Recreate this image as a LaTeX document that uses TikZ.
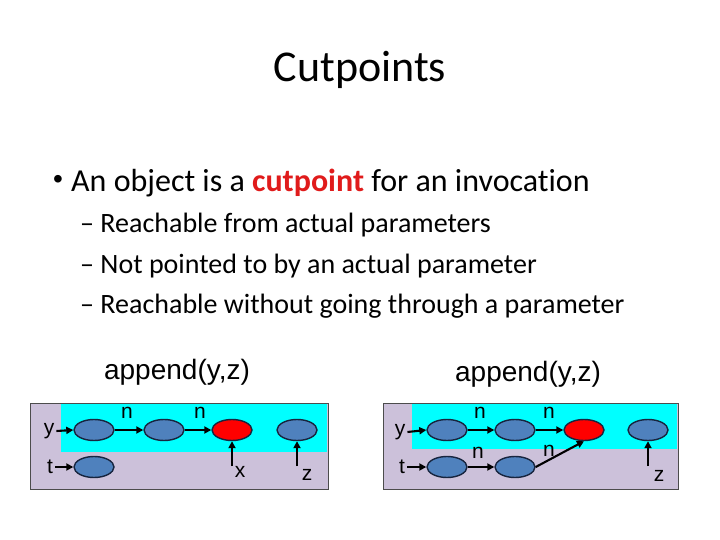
\documentclass[tikz,border=0pt]{standalone}
\usepackage{fontspec}
\setmainfont{Carlito}[Ligatures={NoCommon}]
\newfontfamily\arialf{Liberation Sans}
\definecolor{lilac}{HTML}{CCC1DA}
\definecolor{cyanbg}{HTML}{00FFFF}
\definecolor{objblue}{HTML}{4F81BD}
\definecolor{objline}{HTML}{17253F}
\definecolor{cutred}{HTML}{E01B1B}
\usetikzlibrary{arrows.meta}
\tikzset{
  obj/.style={ellipse, draw=objline, line width=1.4pt, fill=objblue, minimum width=40pt, minimum height=21pt, inner sep=0pt},
  cut/.style={obj, fill=red},
  ptr/.style={draw=black, line width=2.1pt, -{Triangle[length=7pt,width=7pt]}},
  lbl/.style={font=\arialf\fontsize{21}{24}\selectfont, inner sep=0pt},
  head/.style={font=\arialf\fontsize{28}{33}\selectfont, inner sep=0pt},
  lilacbox/.style={fill=lilac, draw=black!70, line width=0.6pt},
  cyanbox/.style={fill=cyanbg, draw=none},
  bl/.style={anchor=base west, inner sep=0pt, font=\fontsize{32}{38}\selectfont},
  sbl/.style={anchor=base west, inner sep=0pt, font=\fontsize{28}{34}\selectfont}
}
\usetikzlibrary{shapes.geometric}
\begin{document}
\begin{tikzpicture}[x=1pt,y=-1pt]
\useasboundingbox (0,0) rectangle (720,540);
% title and bullets
\node[anchor=base, inner sep=0pt, font=\fontsize{44}{52}\selectfont] (title) at (360,82) {Cutpoints};
\node[anchor=center, inner sep=0pt, font=\arialf\fontsize{28}{32}\selectfont] (b0) at (58,182) {•};
\node[bl] (b1) at (71,192) {An object is a \textcolor{cutred}{\textbf{cutpoint}} for an invocation};
\node[sbl] (s1) at (80,233) {– Reachable from actual parameters};
\node[sbl] (s2) at (80,273) {– Not pointed to by an actual parameter};
\node[sbl] (s3) at (80,313) {– Reachable without going through a parameter};
% headers
\node[head] (h1) at (177,372) {append(y,z)};
\node[head] (h2) at (528,374) {append(y,z)};
% ---------- left diagram
\path[lilacbox] (30,403) rectangle (328,489);
\path[cyanbox] (61,404) rectangle (327.4,452);
\node[obj] (a1) at (94,430) {};
\node[obj] (a2) at (164,430) {};
\node[cut] (a3) at (232,430) {};
\node[obj] (a4) at (297,430) {};
\node[obj] (a5) at (94,467) {};
\node[lbl] (ay) at (49,431) {y};
\node[lbl] (at) at (50,467) {t};
\node[lbl] (ax) at (240,472) {x};
\node[lbl] (az) at (307,475) {z};
\node[lbl] (an1) at (127,413) {n};
\node[lbl] (an2) at (200,413) {n};
\draw[ptr] (ay.east) ++(2pt,0) -- (a1.west);
\draw[ptr] (at.east) ++(2pt,0) -- (a5.west);
\draw[ptr] (a1.east) -- (a2.west);
\draw[ptr] (a2.east) -- (a3.west);
\coordinate (axs) at (232,466);
\coordinate (azs) at (297,466);
\draw[ptr] (axs) -- (a3.south);
\draw[ptr] (azs) -- (a4.south);
% ---------- right diagram
\path[lilacbox] (383,403) rectangle (678,489);
\path[cyanbox] (412,404) rectangle (677.4,449);
\node[obj] (c1) at (447,430) {};
\node[obj] (c2) at (515,430) {};
\node[cut] (c3) at (584,430) {};
\node[obj] (c4) at (648,430) {};
\node[obj] (c5) at (447,467) {};
\node[obj] (c6) at (515,467) {};
\node[lbl] (cy) at (400,432) {y};
\node[lbl] (ct) at (402,467) {t};
\node[lbl] (cz) at (659,476) {z};
\node[lbl] (cn1) at (480,413) {n};
\node[lbl] (cn2) at (549,413) {n};
\node[lbl] (cn3) at (478,453) {n};
\node[lbl] (cn4) at (549,451) {n};
\draw[ptr] (cy.east) ++(2pt,0) -- (c1.west);
\draw[ptr] (ct.east) ++(2pt,0) -- (c5.west);
\draw[ptr] (c1.east) -- (c2.west);
\draw[ptr] (c2.east) -- (c3.west);
\draw[ptr] (c5.east) -- (c6.west);
\draw[ptr] (c6.east) -- (c3.south);
\coordinate (czs) at (648,466);
\draw[ptr] (czs) -- (c4.south);
\end{tikzpicture}
\end{document}
